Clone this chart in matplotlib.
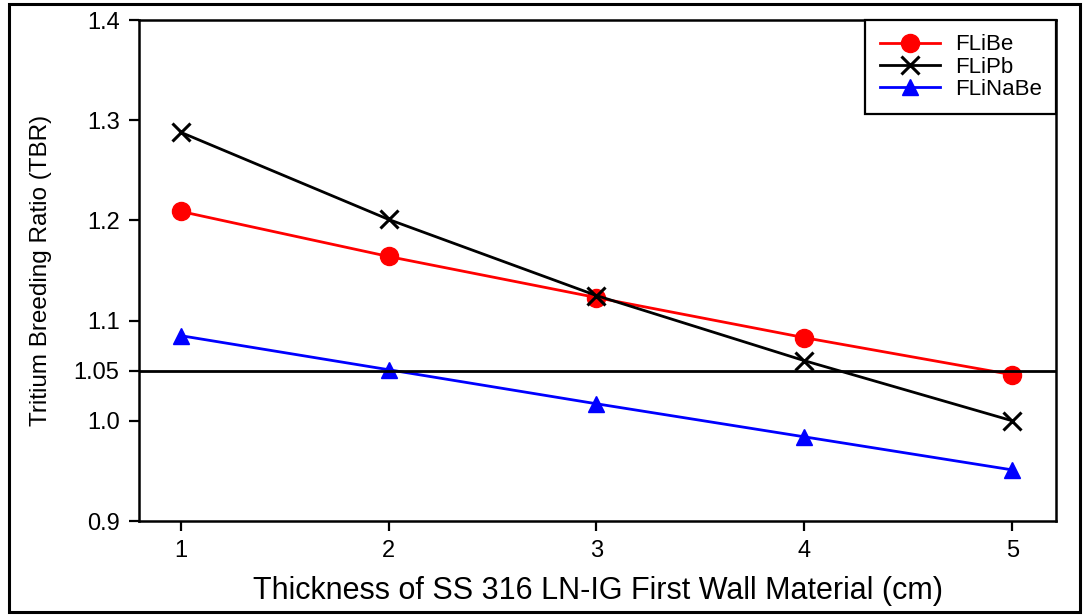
import matplotlib
matplotlib.use("Agg")
import matplotlib.pyplot as plt
from matplotlib.patches import Rectangle

plt.rcParams["font.family"] = ["Liberation Sans", "DejaVu Sans"]

# thickness of first wall (cm)
thickness = [1, 2, 3, 4, 5]
tbr_flibe = [1.209, 1.164, 1.123, 1.083, 1.046]
tbr_flipb = [1.288, 1.201, 1.125, 1.060, 1.000]
tbr_flinabe = [1.085, 1.051, 1.017, 0.984, 0.951]

y_ticks = [0.9, 1.0, 1.05, 1.1, 1.2, 1.3, 1.4]
y_tick_labels = ["0.9", "1.0", "1.05", "1.1", "1.2", "1.3", "1.4"]
threshold = 1.05

fig = plt.figure(figsize=(10.88, 6.16), dpi=100)
ax = fig.add_axes([0.1278, 0.1542, 0.8428, 0.8133])

ax.plot(thickness, tbr_flibe, color="red", lw=2, marker="o", ms=13,
        label="FLiBe")
ax.plot(thickness, tbr_flipb, color="black", lw=2, marker="x", ms=13,
        mew=2.2, label="FLiPb")
ax.plot(thickness, tbr_flinabe, color="blue", lw=2, marker="^", ms=12,
        label="FLiNaBe")
ax.axhline(threshold, color="black", lw=2)

ax.set_xlim(0.8, 5.21)
ax.set_ylim(0.9, 1.4)
ax.set_xticks(thickness)
ax.set_yticks(y_ticks)
ax.set_yticklabels(y_tick_labels)
ax.tick_params(direction="out", length=7, width=1.6, labelsize=17, pad=7)

for s in ax.spines.values():
    s.set_linewidth(1.8)

ax.set_xlabel("Thickness of SS 316 LN-IG First Wall Material (cm)",
              fontsize=22, labelpad=10)
ax.set_ylabel("Tritium Breeding Ratio (TBR)", fontsize=17.5, labelpad=16)

leg = ax.legend(loc="upper right", bbox_to_anchor=(1.0, 1.0), borderaxespad=0,
                fontsize=16, fancybox=False, framealpha=1, edgecolor="black",
                handlelength=2.7, handletextpad=0.68, labelspacing=0.05,
                borderpad=0.65)
leg.get_frame().set_linewidth(1.6)

# outer frame around the whole picture
fig.patches.append(Rectangle((0.0083, 0.0065), 0.984, 0.987, fill=False,
                             edgecolor="black", lw=2.2, transform=fig.transFigure))

fig.savefig("out.png", dpi=100)
